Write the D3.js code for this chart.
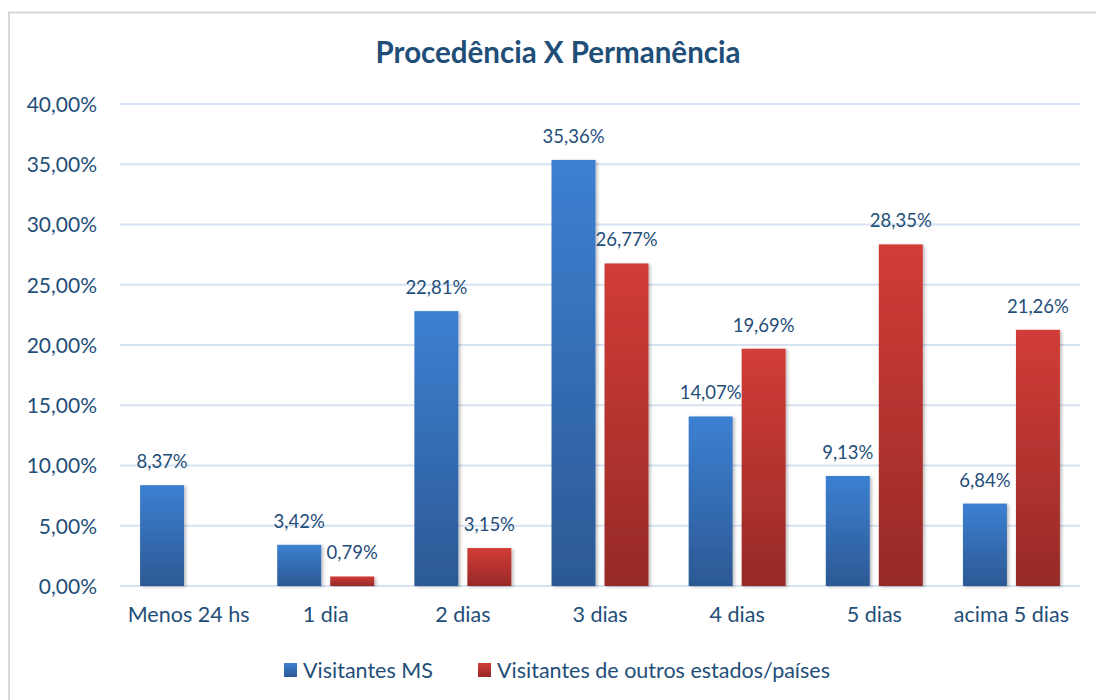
<!DOCTYPE html>
<html><head><meta charset="utf-8">
<script src="https://cdn.jsdelivr.net/npm/d3@7"></script>
<style>body{margin:0;background:#fff;}svg{display:block;font-family:Lato,"Open Sans",sans-serif;}</style>
</head><body><svg id="c" width="1096" height="700"></svg>
<script>
const categories = ["Menos 24 hs","1 dia","2 dias","3 dias","4 dias","5 dias","acima 5 dias"];
const seriesNames = ["Visitantes MS","Visitantes de outros estados/países"];
const msValues = [8.37, 3.42, 22.81, 35.36, 14.07, 9.13, 6.84];
const otherValues = [null, 0.79, 3.15, 26.77, 19.69, 28.35, 21.26];
const yTicks = [0,5,10,15,20,25,30,35,40];
const title = "Procedência X Permanência";

const svg = d3.select("#c");
const txt = "#1f4e79";
const defs = svg.append("defs");
const grads = [["gBlue","#3c80d2","#2c5994"],["gRed","#d23c37","#962a27"]];
grads.forEach(([id,a,b])=>{
  const g = defs.append("linearGradient").attr("id",id).attr("x1",0).attr("y1",0).attr("x2",0).attr("y2",1);
  g.append("stop").attr("offset","0%").attr("stop-color",a);
  g.append("stop").attr("offset","100%").attr("stop-color",b);
});
const f = defs.append("filter").attr("id","sh").attr("x","-20%").attr("y","-5%").attr("width","150%").attr("height","115%");
f.append("feDropShadow").attr("dx",2).attr("dy",1).attr("stdDeviation",1.5).attr("flood-color","#000").attr("flood-opacity",0.25);

// border
svg.append("rect").attr("x",9).attr("y",12.5).attr("width",1100).attr("height",700)
  .attr("fill","none").attr("stroke","#d9d9d9").attr("stroke-width",2);

svg.append("text").attr("x",558).attr("y",63).attr("text-anchor","middle")
  .attr("font-size",29.5).attr("font-weight","bold").attr("fill",txt).text(title);

const x = d3.scaleBand().domain(categories).range([120,1080]);
const y = d3.scaleLinear().domain([0,40]).range([586,104]);

const grid = svg.append("g");
grid.selectAll("line").data(yTicks).join("line")
  .attr("x1",120).attr("x2",1080).attr("y1",d=>y(d)).attr("y2",d=>y(d))
  .attr("stroke","#d6e2f2").attr("stroke-width",2);

const fmt = v => v.toFixed(2).replace(".",",") + "%";

const yAxis = d3.axisLeft(y).tickValues(yTicks).tickSize(0).tickPadding(0).tickFormat(d=>fmt(d));
const ya = svg.append("g").attr("transform","translate(97,0)").call(yAxis);
ya.select(".domain").remove();
ya.selectAll("text").attr("font-size",21).attr("fill",txt).attr("font-family","Lato,sans-serif").attr("dy","0.35em");

const xAxis = d3.axisBottom(x).tickSize(0).tickPadding(0);
const xa = svg.append("g").attr("transform","translate(0,606)").call(xAxis);
xa.select(".domain").remove();
xa.selectAll("text").attr("font-size",21.5).attr("fill",txt).attr("font-family","Lato,sans-serif").attr("dy","0.75em");

const sub = d3.scaleBand().domain([0,1]).range([0, x.bandwidth()]).paddingInner(0.17).paddingOuter(0.379);
const series = [msValues, otherValues];
series.forEach((vals,si)=>{
  const g = svg.append("g");
  const data = categories.map((c,i)=>({c, v: vals[i]})).filter(d=>d.v!=null);
  g.selectAll("rect").data(data).join("rect")
    .attr("x",d=>x(d.c)+sub(si)).attr("width",sub.bandwidth())
    .attr("y",d=>y(d.v)).attr("height",d=>y(0)-y(d.v))
    .attr("fill",`url(#${grads[si][0]})`).attr("filter","url(#sh)");
  g.selectAll("text").data(data).join("text")
    .attr("x",d=>x(d.c)+sub(si)+sub.bandwidth()/2).attr("y",d=>y(d.v)-17)
    .attr("text-anchor","middle").attr("font-size",18.5).attr("fill",txt).text(d=>fmt(d.v));
});

// legend
const leg = svg.append("g").attr("transform","translate(0,670)");
const items = [{x:284,n:seriesNames[0],g:"gBlue"},{x:478,n:seriesNames[1],g:"gRed"}];
items.forEach(it=>{
  leg.append("rect").attr("x",it.x).attr("y",-7).attr("width",13).attr("height",14).attr("fill",`url(#${it.g})`);
  leg.append("text").attr("x",it.x+19).attr("y",0).attr("dy","0.35em").attr("font-size",21.5).attr("fill",txt).text(it.n);
});
</script></body></html>
